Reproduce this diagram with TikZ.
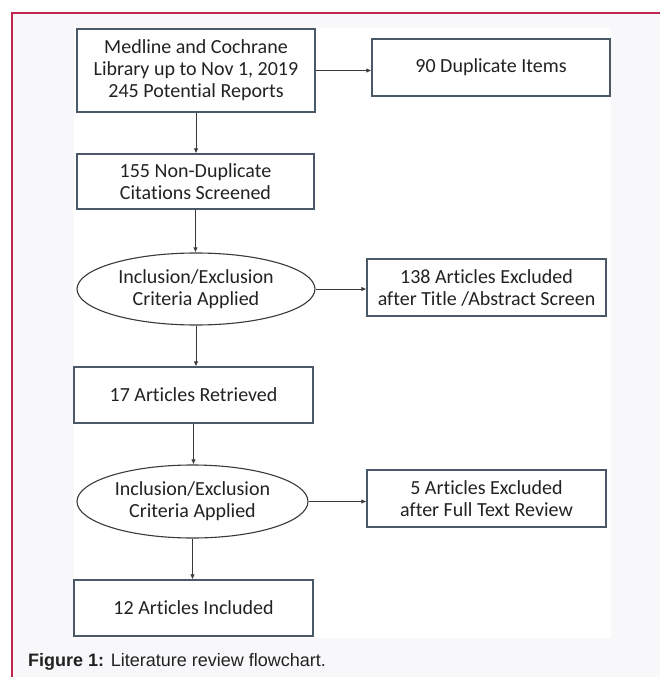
\documentclass[tikz,border=0pt]{standalone}
\usepackage{fontspec}
\setmainfont{Carlito}[Ligatures=NoCommon]
\newfontfamily\capfont{Liberation Sans}
\usetikzlibrary{shapes.geometric,arrows.meta}
\definecolor{frame}{HTML}{C3264C}
\definecolor{boxline}{HTML}{4A5868}
\definecolor{arrline}{HTML}{3A3A3A}
\definecolor{txt}{HTML}{222222}
\definecolor{bgout}{HTML}{F8F7F9}
\tikzset{
  boxnode/.style={draw=boxline, line width=1.2pt, fill=white, inner sep=0pt, align=center,
    text=txt, font=\fontsize{20}{22}\selectfont},
  ellnode/.style={ellipse, draw=arrline, line width=1.1pt, fill=white, inner sep=0pt, align=center,
    text=txt, font=\fontsize{20}{22}\selectfont},
  arr/.style={draw=arrline, line width=0.9pt, -{Latex[length=5pt,width=4.5pt]}}
}
\begin{document}
\begin{tikzpicture}[x=1pt,y=-1pt]
\useasboundingbox (0,0) rectangle (660,677);
\fill[white] (0,0) rectangle (660,677);
\fill[bgout] (12,13) rectangle (660,677);
\fill[white] (74,28) rectangle (611,638);
\draw[frame, line width=1.6pt] (12,677) -- (12,13) -- (660,13);

\node[boxnode, minimum width=238pt, minimum height=83pt] (b1) at (196,70.5)
  {Medline and Cochrane\\Library up to Nov 1, 2019\\245 Potential Reports};
\node[boxnode, minimum width=238pt, minimum height=57pt] (b2) at (491,67.5)
  {90 Duplicate Items};
\node[boxnode, minimum width=237pt, minimum height=55pt] (b3) at (195.5,181.5)
  {155 Non-Duplicate\\Citations Screened};
\node[ellnode, minimum width=238pt, minimum height=72pt] (e1) at (196,289)
  {Inclusion/Exclusion\\Criteria Applied};
\node[boxnode, minimum width=239pt, minimum height=57pt] (b4) at (486.5,287.5)
  {138 Articles Excluded\\after Title /Abstract Screen};
\node[boxnode, minimum width=239pt, minimum height=56pt] (b5) at (193.5,395)
  {17 Articles Retrieved};
\node[ellnode, minimum width=231pt, minimum height=73pt] (e2) at (192.5,501.5)
  {Inclusion/Exclusion\\Criteria Applied};
\node[boxnode, minimum width=239pt, minimum height=57pt] (b6) at (486.5,498.5)
  {5 Articles Excluded\\after Full Text Review};
\node[boxnode, minimum width=239pt, minimum height=56pt] (b7) at (193.5,608)
  {12 Articles Included};

\draw[arr] (b1.east) -- (b1.east -| b2.west);
\draw[arr] (b1.south) -- (b1.south |- b3.north);
\draw[arr] (b3.south) -- (b3.south |- e1.north);
\draw[arr] (e1.east) -- (e1.east -| b4.west);
\draw[arr] (e1.south) -- (e1.south |- b5.north);
\draw[arr] (b5.south) -- (b5.south |- e2.north);
\draw[arr] (e2.east) -- (e2.east -| b6.west);
\draw[arr] (e2.south) -- (e2.south |- b7.north);

\node[anchor=west, inner sep=0pt, text=txt, font=\capfont\fontsize{18}{20}\selectfont] (cap) at (28,662)
  {\textbf{Figure 1:} Literature review flowchart.};
\end{tikzpicture}
\end{document}
